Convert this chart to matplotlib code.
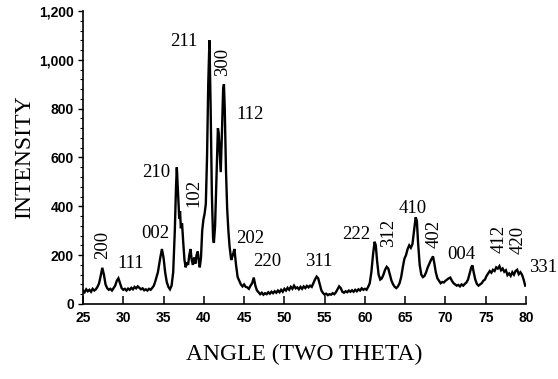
import matplotlib
matplotlib.use("Agg")
import matplotlib.pyplot as plt
from matplotlib.ticker import MultipleLocator, FuncFormatter

# ---------------- data ------------------------------------------------
angle = [
    25.0, 25.2, 25.4, 25.6, 25.8, 26.0, 26.2, 26.4, 26.6, 26.8,
    27.0, 27.2, 27.4, 27.6, 27.8, 28.0, 28.2, 28.4, 28.6, 28.8,
    29.0, 29.2, 29.4, 29.6, 29.8, 30.0, 30.2, 30.4, 30.6, 30.8,
    31.0, 31.2, 31.4, 31.6, 31.8, 32.0, 32.2, 32.4, 32.6, 32.8,
    33.0, 33.2, 33.4, 33.6, 33.8, 34.0, 34.3, 34.6, 34.8, 35.0,
    35.2, 35.4, 35.6, 35.8, 36.0, 36.2, 36.4, 36.55, 36.65, 36.8,
    36.95, 37.05, 37.15, 37.3, 37.45, 37.6, 37.75, 37.9, 38.05, 38.2,
    38.35, 38.5, 38.65, 38.8, 38.95, 39.1, 39.25, 39.4, 39.5, 39.65,
    39.8, 39.95, 40.1, 40.25, 40.4, 40.55, 40.7, 40.85, 41.0, 41.15,
    41.25, 41.4, 41.6, 41.75, 41.85, 42.0, 42.1, 42.25, 42.4, 42.5,
    42.6, 42.75, 42.9, 43.05, 43.2, 43.4, 43.6, 43.8, 44.0, 44.2,
    44.4, 44.6, 44.8, 45.0, 45.2, 45.4, 45.6, 45.8, 46.0, 46.2,
    46.4, 46.6, 46.8, 47.0, 47.2, 47.4, 47.6, 47.8, 48.0, 48.2,
    48.4, 48.6, 48.8, 49.0, 49.2, 49.4, 49.6, 49.8, 50.0, 50.2,
    50.4, 50.6, 50.8, 51.0, 51.2, 51.4, 51.6, 51.8, 52.0, 52.2,
    52.4, 52.6, 52.8, 53.0, 53.2, 53.4, 53.6, 53.8, 54.0, 54.2,
    54.4, 54.6, 54.8, 55.0, 55.2, 55.4, 55.6, 55.8, 56.0, 56.2,
    56.4, 56.6, 56.8, 57.0, 57.2, 57.4, 57.6, 57.8, 58.0, 58.2,
    58.4, 58.6, 58.8, 59.0, 59.2, 59.4, 59.6, 59.8, 60.0, 60.2,
    60.4, 60.6, 60.8, 61.0, 61.2, 61.35, 61.5, 61.7, 61.9, 62.1,
    62.3, 62.5, 62.7, 62.9, 63.1, 63.3, 63.5, 63.7, 63.9, 64.1,
    64.3, 64.5, 64.7, 64.9, 65.1, 65.3, 65.5, 65.7, 65.9, 66.1,
    66.3, 66.45, 66.6, 66.8, 67.0, 67.2, 67.4, 67.6, 67.8, 68.0,
    68.2, 68.45, 68.6, 68.8, 69.0, 69.2, 69.4, 69.6, 69.8, 70.0,
    70.2, 70.4, 70.6, 70.8, 71.0, 71.2, 71.4, 71.6, 71.8, 72.0,
    72.2, 72.4, 72.6, 72.8, 73.0, 73.2, 73.35, 73.5, 73.7, 73.9,
    74.1, 74.3, 74.5, 74.7, 74.9, 75.1, 75.3, 75.5, 75.7, 75.9,
    76.1, 76.3, 76.5, 76.7, 76.9, 77.1, 77.3, 77.5, 77.7, 77.9,
    78.1, 78.3, 78.5, 78.7, 78.9, 79.1, 79.3, 79.5, 79.7, 79.9,
]
intensity = [
    55, 48, 60, 52, 58, 50, 62, 55, 60, 70,
    85, 115, 148, 120, 80, 65, 58, 62, 55, 65,
    75, 95, 105, 85, 65, 58, 62, 55, 63, 58,
    66, 60, 70, 64, 72, 66, 60, 64, 56, 60,
    55, 62, 58, 66, 75, 95, 130, 190, 225, 190,
    130, 90, 70, 60, 75, 130, 300, 480, 560, 450,
    350, 380, 310, 330, 250, 180, 150, 170, 160, 200,
    225, 180, 160, 190, 165, 200, 215, 170, 150, 190,
    300, 345, 370, 410, 600, 900, 1080, 800, 450, 270,
    250, 320, 550, 720, 700, 600, 540, 700, 880, 900,
    800, 550, 390, 300, 235, 180, 200, 225, 160, 110,
    95, 80, 72, 80, 70, 68, 62, 75, 85, 108,
    75, 55, 48, 40, 46, 38, 44, 40, 48, 42,
    50, 44, 52, 46, 55, 48, 58, 50, 62, 55,
    66, 58, 70, 62, 75, 64, 68, 60, 70, 62,
    72, 65, 74, 68, 75, 70, 85, 100, 112, 105,
    80, 55, 45, 38, 42, 36, 40, 38, 44, 40,
    48, 60, 72, 65, 50, 46, 52, 48, 55, 50,
    56, 50, 58, 52, 60, 55, 64, 58, 62, 58,
    70, 85, 130, 200, 255, 240, 180, 120, 100, 105,
    120, 140, 152, 145, 120, 95, 80, 70, 65, 72,
    85, 110, 150, 185, 200, 225, 240, 230, 245, 300,
    355, 340, 250, 160, 120, 110, 115, 130, 150, 165,
    180, 195, 170, 130, 105, 95, 85, 90, 88, 95,
    100, 105, 108, 95, 85, 80, 75, 78, 72, 80,
    75, 82, 88, 100, 125, 150, 158, 130, 100, 82,
    75, 80, 85, 95, 100, 115, 125, 135, 128, 140,
    135, 150, 145, 155, 138, 145, 132, 138, 118, 125,
    115, 130, 120, 135, 140, 122, 130, 120, 100, 75,
]

# peak indices (hkl) and where their labels sit
peak_labels = ["200", "111", "002", "210", "102", "211", "300", "112", "202",
               "220", "311", "222", "312", "410", "402", "004", "412", "420", "331"]
label_x = [27.48, 30.96, 33.94, 34.07, 38.79, 37.55, 42.39, 45.75, 45.75,
           47.86, 54.32, 58.91, 62.89, 65.87, 68.60, 71.96, 76.68, 79.04, 82.14]
label_y = [242, 164, 287, 537, 455, 1074, 992, 775, 270,
           172, 172, 283, 291, 393, 287, 201, 266, 262, 148]
label_rot = [90, 0, 0, 0, 90, 0, 90, 0, 0,
             0, 0, 0, 90, 0, 90, 0, 90, 90, 0]

SERIF = ["Liberation Serif", "DejaVu Serif"]
SANS = ["Liberation Sans", "DejaVu Sans"]

fig = plt.figure(figsize=(5.58, 3.79), dpi=100)
ax = fig.add_axes([0.1487, 0.198, 0.794, 0.773])

ax.plot(angle, intensity, color="black", lw=1.7, solid_joinstyle="miter")

for txt, x, y, rot in zip(peak_labels, label_x, label_y, label_rot):
    ax.text(x, y, txt, rotation=rot, ha="center", va="center",
            fontsize=13.5, family=SERIF, clip_on=False)

ax.set_xlim(25, 80)
ax.set_ylim(0, 1200)
ax.xaxis.set_major_locator(MultipleLocator(5))
ax.yaxis.set_major_locator(MultipleLocator(200))
ax.yaxis.set_minor_locator(MultipleLocator(40))
ax.yaxis.set_major_formatter(FuncFormatter(lambda v, _: f"{int(v):,}"))

for s in ("top", "right"):
    ax.spines[s].set_visible(False)
for s in ("left", "bottom"):
    ax.spines[s].set_linewidth(1.2)

ax.tick_params(axis="x", direction="in", length=6, width=1.1, pad=5)
ax.tick_params(axis="y", which="major", direction="out", length=3.5, width=1.0, pad=3)
ax.tick_params(axis="y", which="minor", direction="out", length=2.2, width=0.8)
for lab in ax.get_xticklabels() + ax.get_yticklabels():
    lab.set_fontfamily(SANS)
    lab.set_fontweight("bold")
    lab.set_fontsize(10)

ax.set_xlabel("ANGLE (TWO THETA)", family=SERIF, fontsize=17, labelpad=14)
ax.set_ylabel("INTENSITY", family=SERIF, fontsize=17, labelpad=3)

fig.savefig("out.png", dpi=100)
